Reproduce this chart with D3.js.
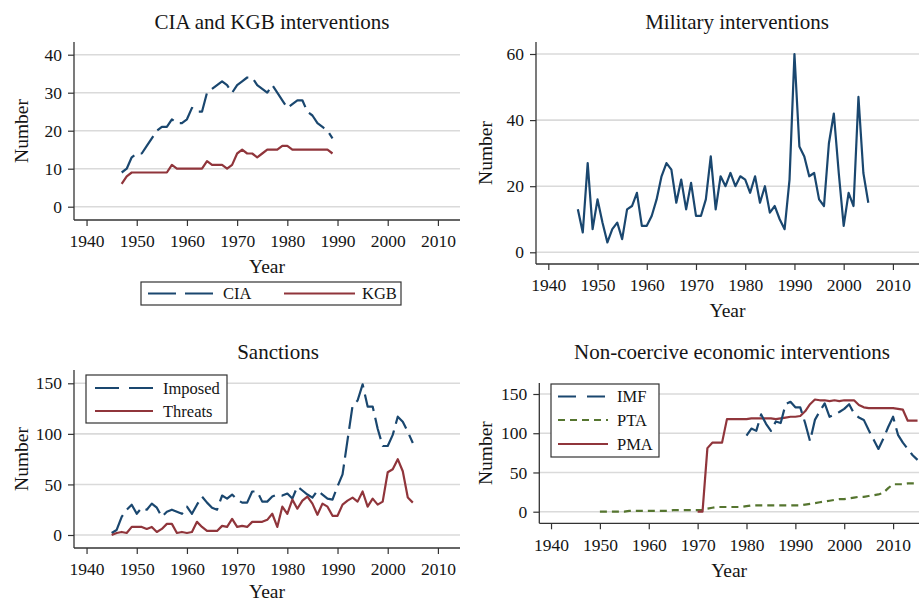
<!DOCTYPE html>
<html>
<head>
<meta charset="utf-8">
<script src="https://cdn.jsdelivr.net/npm/d3@7"></script>
<style>
  body { margin: 0; background: #fff; }
  svg { display: block; }
  text { font-family: "Liberation Serif", "DejaVu Serif", serif; fill: #151515; }
</style>
</head>
<body>
<svg id="chart" width="919" height="602"></svg>
<script>
// ---- CIA and KGB interventions, 1947-1989 ----
const yearsCold = [1947,1948,1949,1950,1951,1952,1953,1954,1955,1956,1957,1958,1959,1960,1961,1962,1963,1964,1965,1966,1967,1968,1969,1970,1971,1972,1973,1974,1975,1976,1977,1978,1979,1980,1981,1982,1983,1984,1985,1986,1987,1988,1989];
const cia = [9,10,13,14,14,16,18,20,21,21,23,22,22,23,26,25,25,30,31,32,33,32,30,32,33,34,34,32,31,30,32,30,28,26,27,28,28,25,24,22,21,20,18];
const kgb = [6,8,9,9,9,9,9,9,9,9,11,10,10,10,10,10,10,12,11,11,11,10,11,14,15,14,14,13,14,15,15,15,16,16,15,15,15,15,15,15,15,15,14];

// ---- Military interventions, 1946-2005 ----
const yearsMilitary = [1946,1947,1948,1949,1950,1951,1952,1953,1954,1955,1956,1957,1958,1959,1960,1961,1962,1963,1964,1965,1966,1967,1968,1969,1970,1971,1972,1973,1974,1975,1976,1977,1978,1979,1980,1981,1982,1983,1984,1985,1986,1987,1988,1989,1990,1991,1992,1993,1994,1995,1996,1997,1998,1999,2000,2001,2002,2003,2004,2005];
const military = [13,6,27,7,16,9,3,7,9,4,13,14,18,8,8,11,16,23,27,25,15,22,13,21,11,11,16,29,13,23,20,24,20,23,22,18,23,15,20,12,14,10,7,22,60,32,29,23,24,16,14,33,42,24,8,18,14,47,24,15];

// ---- Sanctions, 1945-2005 ----
const yearsSanctions = [1945,1946,1947,1948,1949,1950,1951,1952,1953,1954,1955,1956,1957,1958,1959,1960,1961,1962,1963,1964,1965,1966,1967,1968,1969,1970,1971,1972,1973,1974,1975,1976,1977,1978,1979,1980,1981,1982,1983,1984,1985,1986,1987,1988,1989,1990,1991,1992,1993,1994,1995,1996,1997,1998,1999,2000,2001,2002,2003,2004,2005];
const imposed = [2,5,18,25,30,21,27,25,31,27,18,23,25,23,21,28,21,30,38,32,27,25,39,36,40,35,32,32,43,43,33,33,38,40,39,41,36,48,44,40,37,44,40,36,35,48,60,94,128,133,149,127,127,105,88,88,99,117,112,102,91];
const threats = [0,2,3,2,8,8,8,6,8,3,6,11,11,2,3,2,3,13,8,4,4,4,9,8,16,8,9,8,13,13,13,15,21,8,28,21,35,26,34,38,31,20,31,28,19,19,30,34,37,33,43,28,36,30,33,62,65,75,63,37,32];

// ---- Non-coercive economic interventions ----
const yearsIMF = [1980,1981,1982,1983,1984,1985,1986,1987,1988,1989,1990,1991,1992,1993,1994,1995,1996,1997,1998,1999,2000,2001,2002,2003,2004,2005,2006,2007,2008,2009,2010,2011,2012,2013,2014,2015];
const imf = [97,106,103,124,112,103,115,113,137,140,133,133,113,90,117,128,138,121,124,127,131,137,125,120,117,104,92,80,93,108,121,98,88,80,72,66];
const yearsPTA = [1950,1951,1952,1953,1954,1955,1956,1957,1958,1959,1960,1961,1962,1963,1964,1965,1966,1967,1968,1969,1970,1971,1972,1973,1974,1975,1976,1977,1978,1979,1980,1981,1982,1983,1984,1985,1986,1987,1988,1989,1990,1991,1992,1993,1994,1995,1996,1997,1998,1999,2000,2001,2002,2003,2004,2005,2006,2007,2008,2009,2010,2011,2012,2013,2014,2015];
const pta = [0,0,0,0,0,0,1,1,1,1,1,1,1,1,1,2,2,2,2,2,2,2,4,5,6,6,6,6,6,6,7,8,8,8,8,8,8,8,8,8,8,8,9,10,11,12,13,14,15,16,16,17,18,19,19,20,21,22,24,30,35,35,35,36,36,36];
const yearsPMA = [1970,1971,1972,1973,1974,1975,1976,1977,1978,1979,1980,1981,1982,1983,1984,1985,1986,1987,1988,1989,1990,1991,1992,1993,1994,1995,1996,1997,1998,1999,2000,2001,2002,2003,2004,2005,2006,2007,2008,2009,2010,2011,2012,2013,2014,2015];
const pma = [0,0,81,88,88,88,118,118,118,118,118,119,119,119,119,119,118,119,120,121,121,122,128,137,143,142,142,141,142,141,142,142,142,136,133,132,132,132,132,132,132,131,130,116,116,116];

// ---- Axis ticks ----
const yearTicks = [1940,1950,1960,1970,1980,1990,2000,2010];
const ticksCold = [0,10,20,30,40];
const ticksMilitary = [0,20,40,60];
const ticksSanctions = [0,50,100,150];
const ticksEconomic = [0,50,100,150];

const BLUE = "#1a476f", RED = "#90353b", GREEN = "#55752f";
const LONGDASH = "22,7", SHORTDASH = "7,5";

const svg = d3.select("#chart");

function drawPanel(p) {
  const g = svg.append("g");
  const x = d3.scaleLinear().domain(p.xDomain).range([p.left, p.right]);
  const y = d3.scaleLinear().domain(p.yDomain).range(p.yRange);
  const clipId = "clip" + p.id;
  svg.append("clipPath").attr("id", clipId)
    .append("rect").attr("x", p.left).attr("y", p.top)
    .attr("width", p.right - p.left).attr("height", p.bottom - p.top);

  // horizontal gridlines
  g.selectAll(".grid").data(p.yTicks).join("line")
    .attr("x1", p.left).attr("x2", p.right)
    .attr("y1", d => y(d)).attr("y2", d => y(d))
    .attr("stroke", "#dadada").attr("stroke-width", 1.6);

  // axes
  const ya = g.append("g").attr("transform", `translate(${p.left},0)`)
    .call(d3.axisLeft(y).tickValues(p.yTicks).tickSize(6).tickSizeOuter(0).tickPadding(6));
  const xa = g.append("g").attr("transform", `translate(0,${p.bottom})`)
    .call(d3.axisBottom(x).tickValues(yearTicks).tickFormat(d3.format("d")).tickSize(6).tickSizeOuter(0).tickPadding(9));
  [ya, xa].forEach(a => {
    a.select(".domain").remove();
    a.selectAll("line").attr("stroke", "#333").attr("stroke-width", 1.2);
    a.selectAll("text").attr("font-size", 17.5).attr("fill", "#151515")
      .style("font-family", '"Liberation Serif", serif');
  });
  g.append("line").attr("x1", p.left).attr("x2", p.left).attr("y1", p.top).attr("y2", p.bottom)
    .attr("stroke", "#333").attr("stroke-width", 1.3);
  g.append("line").attr("x1", p.left).attr("x2", p.right).attr("y1", p.bottom).attr("y2", p.bottom)
    .attr("stroke", "#333").attr("stroke-width", 1.3);

  // series
  const line = d3.line().x(d => x(d[0])).y(d => y(d[1]));
  p.series.forEach(s => {
    g.append("path").datum(d3.zip(s.years, s.values))
      .attr("clip-path", `url(#${clipId})`)
      .attr("d", line).attr("fill", "none")
      .attr("stroke", s.color).attr("stroke-width", 2.2)
      .attr("stroke-linejoin", "round")
      .attr("stroke-dasharray", s.dash || null);
  });

  // titles
  g.append("text").attr("x", p.titleX).attr("y", p.titleY).attr("text-anchor", "middle")
    .attr("font-size", 21).text(p.title);
  g.append("text").attr("x", (p.left + p.right) / 2).attr("y", p.yearY).attr("text-anchor", "middle")
    .attr("font-size", 19.5).text("Year");
  g.append("text")
    .attr("transform", `translate(${p.yLabelX},${(p.top + p.bottom) / 2}) rotate(-90)`)
    .attr("text-anchor", "middle").attr("font-size", 19.5).text("Number");

  // legend
  if (p.legend) {
    const L = p.legend;
    g.append("rect").attr("x", L.x).attr("y", L.y).attr("width", L.w).attr("height", L.h)
      .attr("fill", "#fff").attr("stroke", "#333").attr("stroke-width", 1.2);
    L.items.forEach(it => {
      g.append("line").attr("x1", it.x1).attr("x2", it.x2).attr("y1", it.y).attr("y2", it.y)
        .attr("stroke", it.color).attr("stroke-width", 2.2)
        .attr("stroke-dasharray", it.dash || null);
      g.append("text").attr("x", it.tx).attr("y", it.y + 5.5).attr("font-size", 16.5).text(it.label);
    });
  }
}

drawPanel({
  id: 1, left: 74, right: 460, top: 42, bottom: 220,
  xDomain: [1937.5, 2014.4], yDomain: [0, 40], yRange: [206.7, 54.7], yTicks: ticksCold,
  title: "CIA and KGB interventions", titleX: 272, titleY: 29, yearY: 273, yLabelX: 28,
  series: [
    { years: yearsCold, values: cia, color: BLUE, dash: LONGDASH },
    { years: yearsCold, values: kgb, color: RED }
  ],
  legend: { x: 141, y: 282, w: 260, h: 23, items: [
    { x1: 148, x2: 213, y: 293.5, color: BLUE, dash: "28,9", tx: 223, label: "CIA" },
    { x1: 284, x2: 355, y: 293.5, color: RED, tx: 362, label: "KGB" }
  ] }
});

drawPanel({
  id: 2, left: 536, right: 919, top: 42, bottom: 264,
  xDomain: [1937.5, 2015.3], yDomain: [0, 60], yRange: [252.3, 54], yTicks: ticksMilitary,
  title: "Military interventions", titleX: 737, titleY: 29, yearY: 317, yLabelX: 492,
  series: [ { years: yearsMilitary, values: military, color: BLUE } ]
});

drawPanel({
  id: 3, left: 74, right: 460, top: 370, bottom: 548,
  xDomain: [1937.5, 2014.4], yDomain: [0, 150], yRange: [535, 383.3], yTicks: ticksSanctions,
  title: "Sanctions", titleX: 278, titleY: 359, yearY: 598, yLabelX: 28,
  series: [
    { years: yearsSanctions, values: imposed, color: BLUE, dash: LONGDASH },
    { years: yearsSanctions, values: threats, color: RED }
  ],
  legend: { x: 86, y: 375, w: 141, h: 48, items: [
    { x1: 95, x2: 153, y: 388, color: BLUE, dash: "24,10", tx: 163, label: "Imposed" },
    { x1: 95, x2: 153, y: 411, color: RED, tx: 163, label: "Threats" }
  ] }
});

drawPanel({
  id: 4, left: 539.3, right: 919, top: 383, bottom: 523.3,
  xDomain: [1937.6, 2015.3], yDomain: [0, 150], yRange: [511.7, 394], yTicks: ticksEconomic,
  title: "Non-coercive economic interventions", titleX: 732, titleY: 359, yearY: 577, yLabelX: 492,
  series: [
    { years: yearsPTA, values: pta, color: GREEN, dash: SHORTDASH },
    { years: yearsPMA, values: pma, color: RED },
    { years: yearsIMF, values: imf, color: BLUE, dash: LONGDASH }
  ],
  legend: { x: 551, y: 384, w: 108, h: 73, items: [
    { x1: 558, x2: 608, y: 396.5, color: BLUE, dash: "18,11", tx: 617, label: "IMF" },
    { x1: 558, x2: 608, y: 420, color: GREEN, dash: SHORTDASH, tx: 617, label: "PTA" },
    { x1: 558, x2: 608, y: 444, color: RED, tx: 617, label: "PMA" }
  ] }
});
</script>
</body>
</html>
